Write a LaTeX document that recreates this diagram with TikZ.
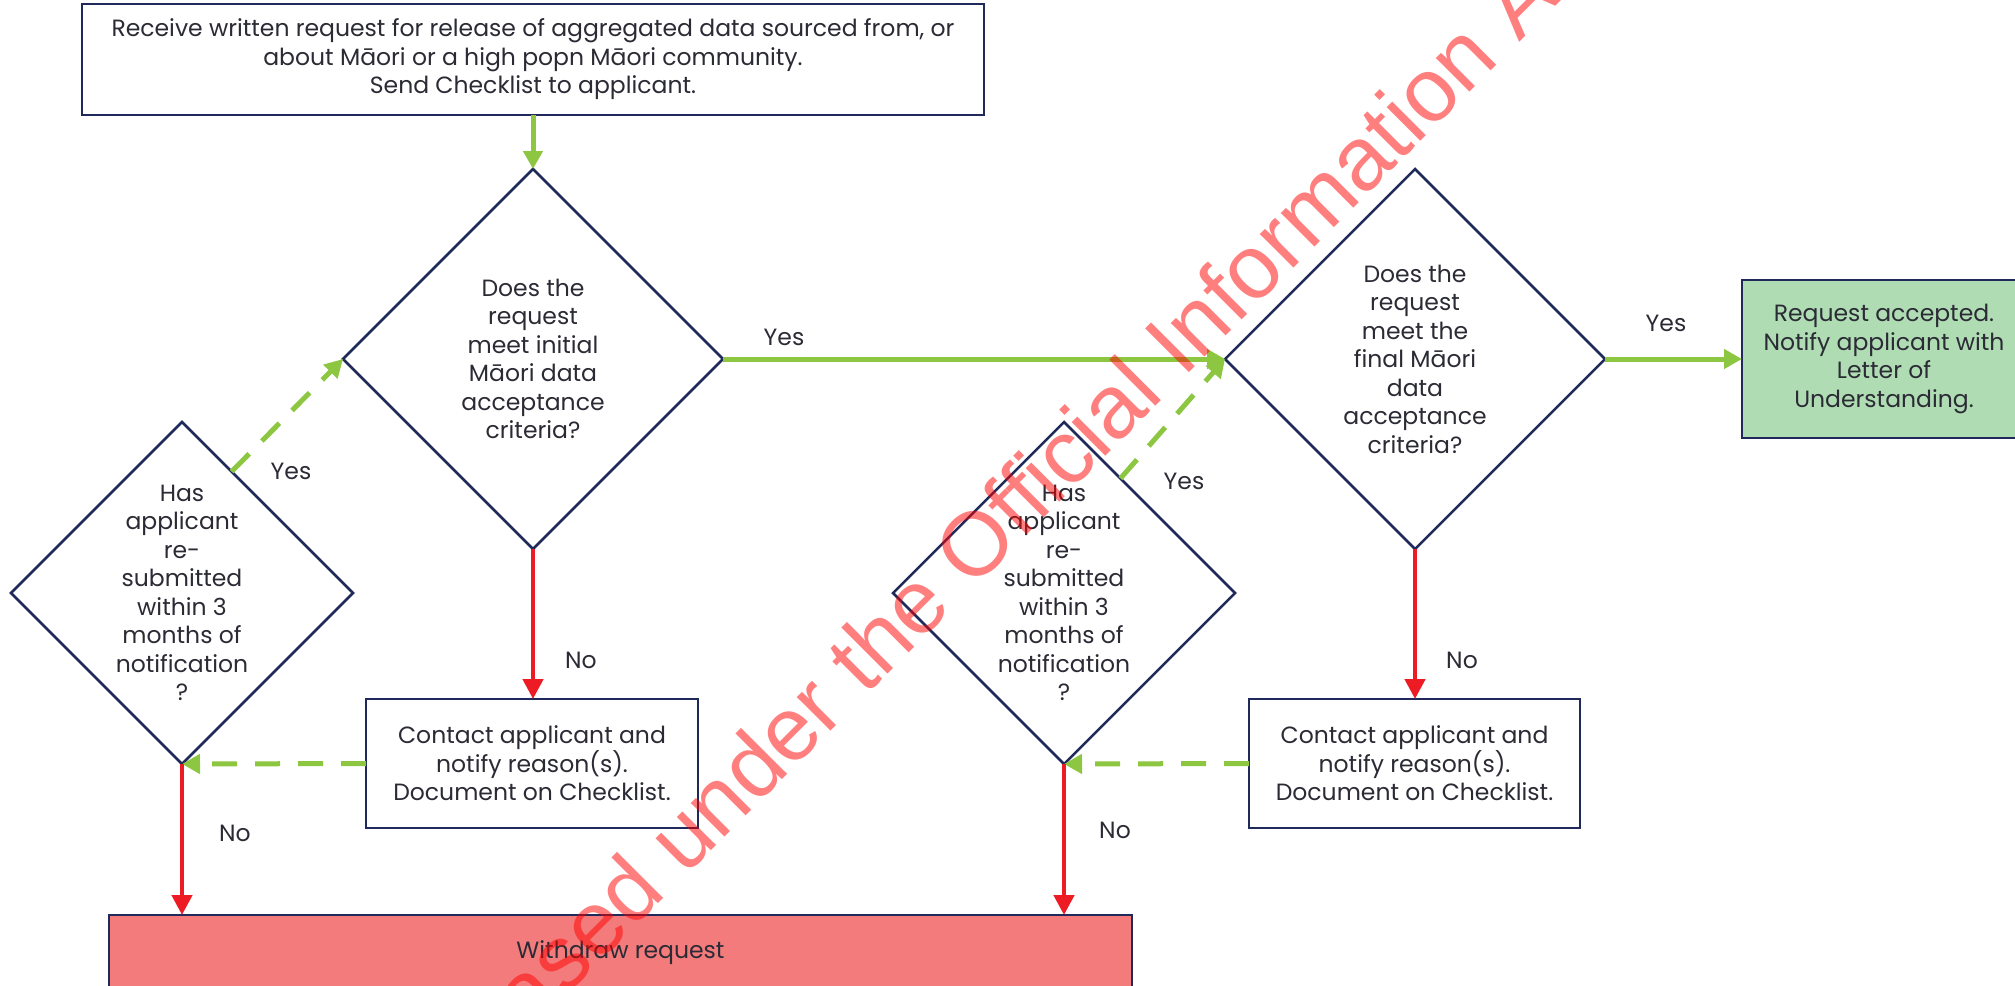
\documentclass[tikz,border=0pt]{standalone}
\usepackage{fontspec}
\setmainfont{Poppins}
\newfontfamily\wmfont{Liberation Sans}
\usetikzlibrary{shapes.geometric,arrows.meta,calc}
\definecolor{navy}{HTML}{1F2A5A}
\definecolor{fgreen}{HTML}{8DC641}
\definecolor{fred}{HTML}{ED1C24}
\definecolor{boxgreen}{HTML}{B0DCB4}
\definecolor{boxpink}{HTML}{F37B7B}
\definecolor{txt}{HTML}{2B2B35}
\begin{document}
\begin{tikzpicture}[x=1pt,y=-1pt,
  every node/.style={font=\fontsize{23.5}{28.5}\selectfont, text=txt, outer sep=0pt},
  procbox/.style={draw=navy, line width=1.6pt, fill=white, rectangle, align=center, inner sep=0pt},
  decision/.style={draw=navy, line width=2.5pt, diamond, aspect=1, align=center, inner sep=-40pt},
  lbl/.style={inner sep=0pt},
  garrow/.style={draw=fgreen, line width=5pt, -{Triangle[length=18pt,width=19pt]}},
  gdash/.style={draw=fgreen, line width=5pt, dash pattern=on 25pt off 18pt, -{Triangle[length=18pt,width=19pt]}},
  rarrow/.style={draw=fred, line width=4.5pt, -{Triangle[length=20pt,width=20pt]}},
  wm/.style={anchor=base west, rotate=45, inner sep=0pt, font=\wmfont\fontsize{90}{90}\selectfont, text=red, text opacity=0.5},
]
\useasboundingbox (0,0) rectangle (2015,985);
\clip (0,0) rectangle (2015,985);

% nodes
\node[procbox, minimum width=902pt, minimum height=111pt] (top) at (533,59.5)
  {Receive written request for release of aggregated data sourced from, or\\about Māori or a high popn Māori community.\\Send Checklist to applicant.};
\node[decision, minimum width=380pt, minimum height=380pt] (d1) at (533,359)
  {Does the\\request\\meet initial\\Māori data\\acceptance\\criteria?};
\node[decision, minimum width=380pt, minimum height=380pt] (d2) at (1415,359)
  {Does the\\request\\meet the\\final Māori\\data\\acceptance\\criteria?};
\node[decision, minimum width=342pt, minimum height=342pt] (ld) at (182,593)
  {Has\\applicant\\re-\\submitted\\within 3\\months of\\notification\\?};
\node[decision, minimum width=342pt, minimum height=342pt] (md) at (1064,593)
  {Has\\applicant\\re-\\submitted\\within 3\\months of\\notification\\?};
\node[procbox, minimum width=332pt, minimum height=129pt] (c1) at (532,763.5)
  {Contact applicant and\\notify reason(s).\\Document on Checklist.};
\node[procbox, minimum width=331pt, minimum height=129pt] (c2) at (1414.5,763.5)
  {Contact applicant and\\notify reason(s).\\Document on Checklist.};
\node[procbox, fill=boxgreen, minimum width=284pt, minimum height=158pt] (acc) at (1884,359)
  {Request accepted.\\Notify applicant with\\Letter of\\Understanding.};
\node[procbox, fill=boxpink, minimum width=1023pt, minimum height=76pt] (wd) at (620.5,953)
  {Withdraw request};

% connectors
\draw[garrow] (top.south) -- (d1.north);
\draw[garrow] (d1.east) -- (d2.west);
\draw[garrow] (d2.east) -- (acc.west);
\draw[rarrow] (d1.south) -- (d1.south |- c1.north);
\draw[rarrow] (d2.south) -- (d2.south |- c2.north);
\draw[gdash] (c1.west) -- (ld.south);
\draw[gdash] (c2.west) -- (md.south);
\draw[rarrow] (ld.south) -- (ld.south |- wd.north);
\draw[rarrow] (md.south) -- (md.south |- wd.north);
\draw[gdash] ($(ld.north)!0.29!(ld.east)$) -- (d1.west);
\draw[gdash] ($(md.north)!0.33!(md.east)$) -- (d2.west);

% labels
\node[lbl] (y1) at (784,337) {Yes};
\node[lbl] (y2) at (1666,323) {Yes};
\node[lbl] (y3) at (291,471) {Yes};
\node[lbl] (y4) at (1184,481) {Yes};
\node[lbl] (n1) at (581,660) {No};
\node[lbl] (n2) at (1462,660) {No};
\node[lbl] (n3) at (235,833) {No};
\node[lbl] (n4) at (1115,830) {No};

% watermark
\node[wm] (wmk) at (399,1163) {Released under the Official Information Act};
\end{tikzpicture}
\end{document}
